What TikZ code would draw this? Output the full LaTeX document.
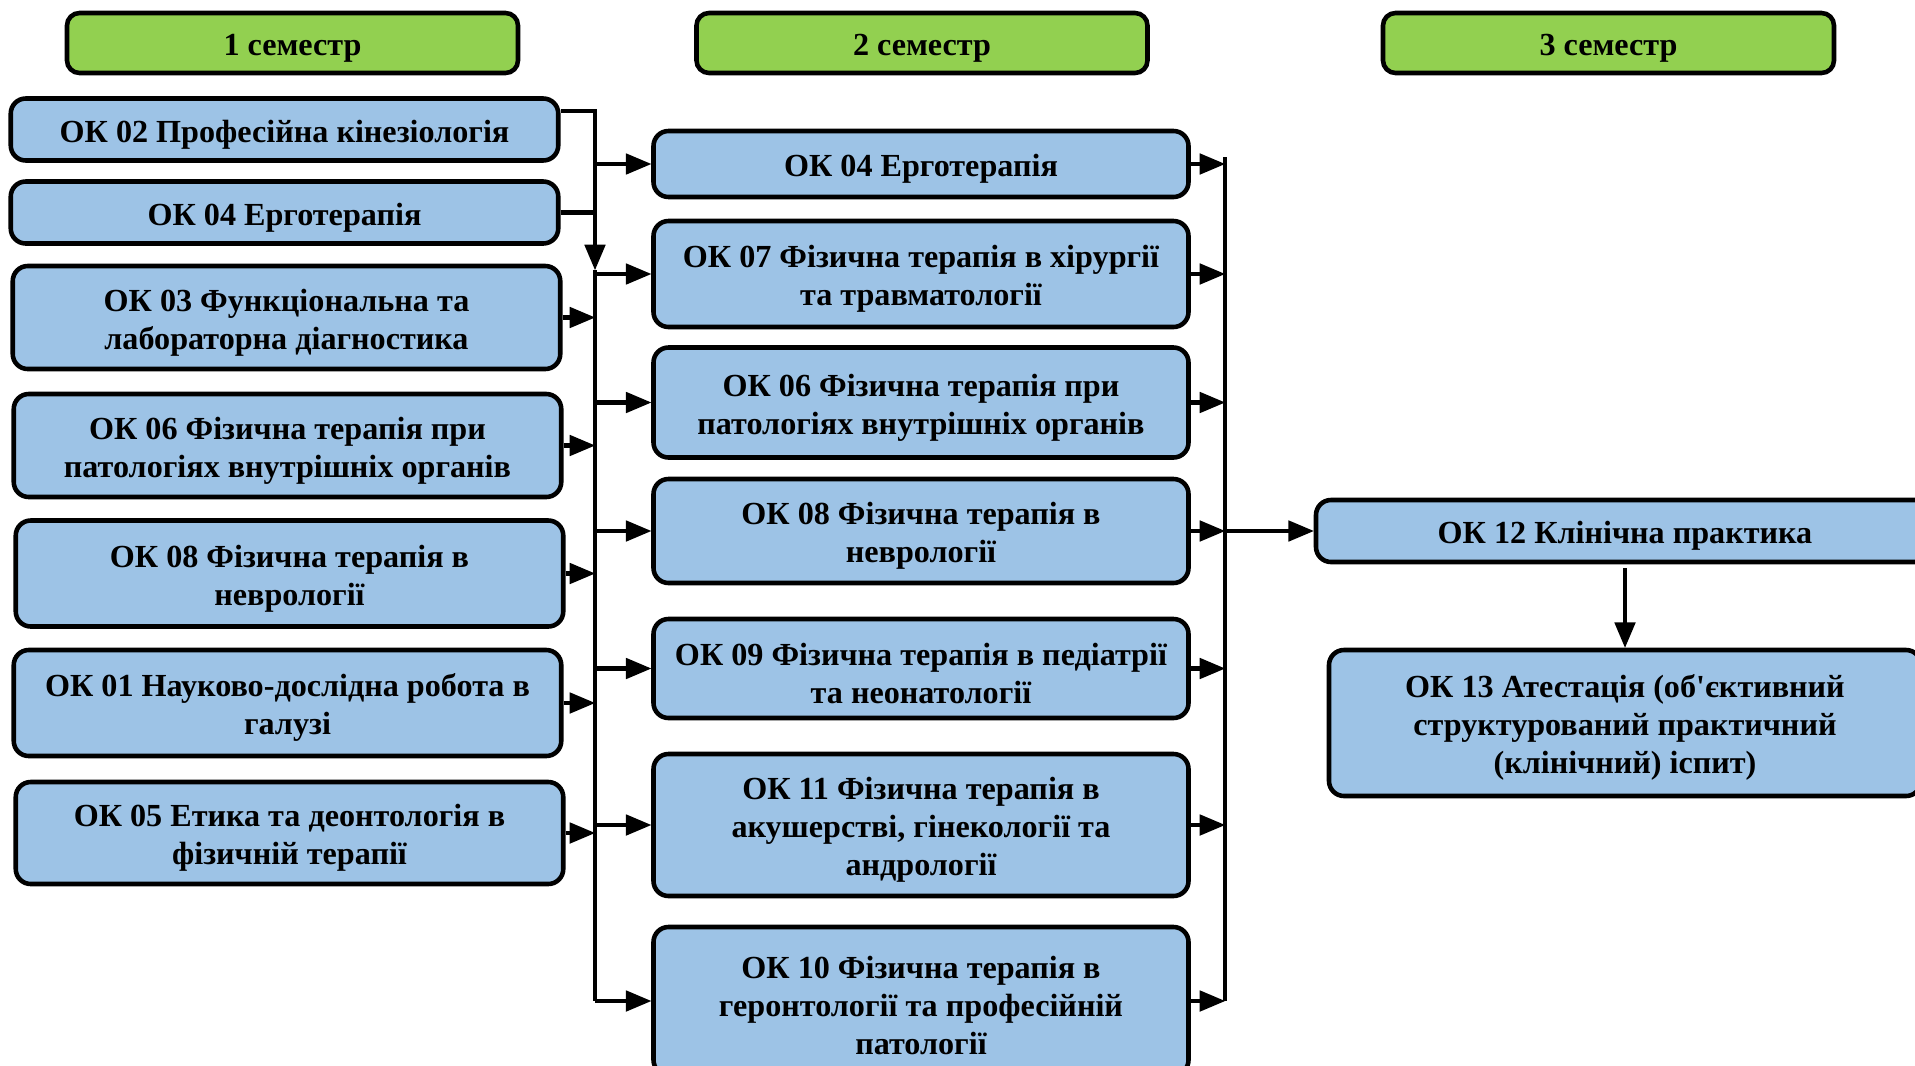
\documentclass[tikz,border=0pt]{standalone}
\usepackage{fontspec}
\setmainfont{Liberation Serif}
\usepackage{tikz}
\usetikzlibrary{shapes.geometric, arrows}
\tikzstyle{semester} = [rectangle, rounded corners=0.25cm, minimum width=9.02cm, minimum height=1.2cm, draw=black, line width=2.6pt, fill=greenish, font=\boxfont, execute at begin node=\rule{0pt}{1em}]
\tikzstyle{course} = [rectangle, rounded corners=0.3cm, minimum width=10.95cm, minimum height=1.24cm, draw=black, line width=2.6pt, fill=bluish, align=center, font=\boxfont, execute at begin node=\rule{0pt}{1em}]
\tikzstyle{course2} = [course, minimum width=10.7cm]
\tikzstyle{twolines} = [execute at begin node=\rule{0pt}{39.9pt}]
\tikzstyle{threelines} = [execute at begin node=\rule{0pt}{61.5pt}]
\tikzstyle{arrow} = [line width=2.4pt,->,>=triangle 45]
\tikzstyle{bus} = [line width=2.4pt]
\definecolor{greenish}{RGB}{146,208,80}
\definecolor{bluish}{RGB}{157,195,230}
\newcommand{\boxfont}{\fontsize{18.3}{21.6}\selectfont\bfseries}

\begin{document}
\begin{tikzpicture}
\useasboundingbox (0,0) rectangle (38.3,-21.3);
% semesters
\node (sem1) [semester] at (5.85,-0.86) {1 семестр};
\node (sem2) [semester, right of=sem1, xshift=11.59cm] {2 семестр};
\node (sem3) [semester, right of=sem2, xshift=12.73cm] {3 семестр};
% 1 semester
\node (kin) [course, below of=sem1, xshift=-.16cm, yshift=-.73cm] {ОК 02 Професійна кінезіологія};
\node (ergo) [course, below of=kin, yshift=-.66cm] {ОК 04 Ерготерапія};
\node (diag) [course, twolines, minimum height=2.06cm, below of=ergo, xshift=.04cm, yshift=-1.1cm] {ОК 03 Функціональна та\\лабораторна діагностика};
\node (vnut) [course, twolines, minimum height=2.06cm, below of=diag, xshift=.02cm, yshift=-1.56cm] {ОК 06 Фізична терапія при\\патологіях внутрішніх органів};
\node (nevr) [course, twolines, minimum height=2.12cm, below of=vnut, xshift=.04cm, yshift=-1.56cm] {ОК 08 Фізична терапія в\\неврології};
\node (nauk) [course, twolines, minimum height=2.12cm, below of=nevr, xshift=-.04cm, yshift=-1.59cm] {ОК 01 Науково-дослідна робота в\\галузі};
\node (etyk) [course, twolines, minimum height=2.04cm, below of=nauk, xshift=.04cm, yshift=-1.6cm] {ОК 05 Етика та деонтологія в\\фізичній терапії};
% 2 semester
\node (ergo2) [course2, minimum height=1.32cm, below of=sem2, xshift=-.02cm, yshift=-1.42cm] {ОК 04 Ерготерапія};
\node (hir) [course2, twolines, minimum height=2.12cm, below of=ergo2, yshift=-1.2cm] {ОК 07 Фізична терапія в хірургії\\та травматології};
\node (vnut2) [course2, twolines, minimum height=2.2cm, below of=hir, yshift=-1.57cm] {ОК 06 Фізична терапія при\\патологіях внутрішніх органів};
\node (nevr2) [course2, twolines, minimum height=2.08cm, below of=vnut2, yshift=-1.57cm] {ОК 08 Фізична терапія в\\неврології};
\node (ped) [course2, twolines, minimum height=1.98cm, below of=nevr2, yshift=-1.75cm] {ОК 09 Фізична терапія в педіатрії\\та неонатології};
\node (akush) [course2, threelines, minimum height=2.84cm, below of=ped, yshift=-2.13cm] {ОК 11 Фізична терапія в\\акушерстві, гінекології та\\андрології};
\node (geron) [course2, threelines, minimum height=2.96cm, below of=akush, yshift=-2.52cm] {ОК 10 Фізична терапія в\\геронтології та професійній\\патології};
% 3 semester
\node (prakt) [course, minimum width=12.36cm, right of=nevr2, xshift=13.08cm] {ОК 12 Клінічна практика};
\node (atest) [course, threelines, minimum width=11.84cm, minimum height=2.92cm, below of=prakt, yshift=-2.84cm] {ОК 13 Атестація (об\textquotesingle єктивний\\структурований практичний\\(клінічний) іспит)};
% connectors
\coordinate (join) at (11.9,-5.4);
\coordinate (rbus) at (24.5,-3.14);
\draw [arrow] ([yshift=.37cm]kin.east) -| (join);
\draw [bus] (ergo.east) -- (ergo.east -| join);
\draw [bus] (join) -- (join |- geron.west);
\foreach \n in {diag, vnut, nevr, nauk, etyk}
  \draw [arrow] (\n.east) -- (\n.east -| join);
\foreach \n in {ergo2, hir, vnut2, nevr2, ped, akush, geron}
  \draw [arrow] (\n.west -| join) -- (\n.west);
\draw [line width=1.8pt] (rbus) -- (rbus |- geron.east);
\foreach \n in {ergo2, hir, vnut2, nevr2, ped, akush, geron}
  \draw [arrow] (\n.east) -- (\n.east -| rbus);
\draw [arrow] (nevr2.east -| rbus) -- (prakt.west);
\draw [arrow] ([yshift=-.08cm]prakt.south) -- (atest.north);
\end{tikzpicture}
\end{document}
